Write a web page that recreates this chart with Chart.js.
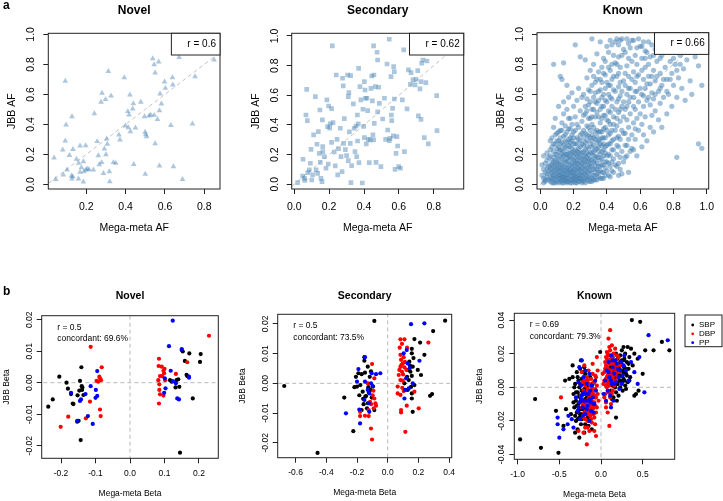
<!DOCTYPE html>
<html>
<head>
<meta charset="utf-8">
<script src="https://cdn.jsdelivr.net/npm/chart.js@4.4.1/dist/chart.umd.min.js"></script>
<style>
  body { margin: 0; background: #fff; }
  canvas { position: absolute; left: 0; top: 0; }
</style>
</head>
<body>
<script>
// ---- data ----
const novelAf = [[0.036,0.177],[0.044,0.034],[0.080,0.230],[0.083,0.063],[0.093,0.688],[0.093,0.290],[0.097,0.397],[0.102,0.097],[0.114,0.194],[0.124,0.057],[0.127,0.037],[0.127,0.452],[0.132,0.234],[0.131,0.052],[0.150,0.168],[0.160,0.037],[0.161,0.141],[0.168,0.257],[0.168,0.081],[0.175,0.112],[0.185,0.152],[0.185,0.017],[0.188,0.085],[0.197,0.259],[0.198,0.097],[0.205,0.103],[0.214,0.099],[0.236,0.097],[0.241,0.472],[0.255,0.286],[0.261,0.192],[0.266,0.132],[0.275,0.548],[0.280,0.608],[0.278,0.146],[0.287,0.074],[0.292,0.237],[0.298,0.566],[0.300,0.199],[0.304,0.303],[0.307,0.269],[0.312,0.754],[0.317,0.085],[0.319,0.019],[0.326,0.590],[0.338,0.146],[0.350,0.141],[0.366,0.330],[0.371,0.297],[0.393,0.712],[0.399,0.390],[0.411,0.486],[0.414,0.379],[0.417,0.463],[0.422,0.597],[0.424,0.352],[0.436,0.503],[0.439,0.539],[0.441,0.134],[0.450,0.377],[0.477,0.548],[0.496,0.452],[0.499,0.348],[0.502,0.332],[0.500,0.068],[0.507,0.319],[0.519,0.456],[0.527,0.463],[0.538,0.839],[0.545,0.799],[0.550,0.743],[0.545,0.461],[0.550,0.272],[0.562,0.434],[0.568,0.817],[0.572,0.123],[0.572,0.492],[0.575,0.603],[0.582,0.537],[0.598,0.683],[0.602,0.641],[0.630,0.394],[0.638,0.712],[0.640,0.663],[0.643,0.119],[0.672,0.846],[0.689,0.034],[0.740,0.403],[0.753,0.719],[0.850,0.830]];

const secondaryAf = [[0.019,0.011],[0.050,0.169],[0.048,0.056],[0.058,0.040],[0.061,0.027],[0.067,0.467],[0.071,0.640],[0.075,0.429],[0.077,0.079],[0.086,0.097],[0.092,0.142],[0.096,0.236],[0.100,0.029],[0.105,0.063],[0.111,0.333],[0.121,0.591],[0.125,0.097],[0.130,0.270],[0.134,0.074],[0.138,0.355],[0.144,0.209],[0.147,0.501],[0.149,0.148],[0.153,0.040],[0.159,0.018],[0.161,0.434],[0.163,0.254],[0.164,0.220],[0.172,0.187],[0.182,0.108],[0.187,0.569],[0.191,0.389],[0.195,0.137],[0.197,0.528],[0.203,0.378],[0.206,0.407],[0.214,0.510],[0.214,0.283],[0.218,0.933],[0.222,0.416],[0.229,0.218],[0.235,0.124],[0.241,0.737],[0.245,0.303],[0.249,0.063],[0.254,0.240],[0.264,0.378],[0.268,0.187],[0.274,0.085],[0.277,0.715],[0.281,0.663],[0.283,0.276],[0.287,0.443],[0.293,0.234],[0.300,0.193],[0.306,0.737],[0.310,0.591],[0.313,0.618],[0.310,0.160],[0.316,0.353],[0.321,0.276],[0.323,0.733],[0.325,0.011],[0.329,0.126],[0.339,0.542],[0.344,0.378],[0.348,0.220],[0.354,0.393],[0.358,0.187],[0.362,0.467],[0.363,0.292],[0.367,0.407],[0.369,0.782],[0.371,0.146],[0.377,0.658],[0.382,0.569],[0.390,0.009],[0.394,0.506],[0.398,0.391],[0.402,0.692],[0.402,0.315],[0.406,0.636],[0.408,0.580],[0.413,0.272],[0.417,0.580],[0.421,0.497],[0.425,0.303],[0.430,0.146],[0.436,0.299],[0.440,0.647],[0.444,0.730],[0.448,0.562],[0.451,0.333],[0.455,0.933],[0.455,0.299],[0.457,0.737],[0.459,0.411],[0.465,0.658],[0.469,0.148],[0.475,0.890],[0.478,0.488],[0.478,0.838],[0.484,0.654],[0.488,0.546],[0.497,0.119],[0.507,0.440],[0.517,0.580],[0.524,0.303],[0.532,0.811],[0.536,0.366],[0.545,0.978],[0.545,0.294],[0.549,0.310],[0.555,0.726],[0.557,0.467],[0.559,0.429],[0.564,0.512],[0.568,0.326],[0.570,0.793],[0.574,0.760],[0.574,0.575],[0.578,0.101],[0.584,0.209],[0.589,0.321],[0.593,0.258],[0.599,0.119],[0.609,0.108],[0.620,0.569],[0.628,0.906],[0.632,0.220],[0.647,0.508],[0.655,0.771],[0.666,0.674],[0.670,0.753],[0.681,0.704],[0.693,0.670],[0.699,0.708],[0.708,0.766],[0.712,0.461],[0.721,0.643],[0.727,0.438],[0.727,0.692],[0.731,0.816],[0.738,0.838],[0.746,0.315],[0.755,0.685],[0.761,0.831],[0.769,0.272],[0.817,0.598],[0.819,0.362]];

const knownAf = [
  [0.01,0.13],[0.02,0.04],[0.02,0.19],[0.03,0.08],[0.03,0.02],[0.04,0.11],[0.04,0.05],[0.01,0.06],[0.02,0.10],[0.04,0.16],[0.03,0.14],[0.05,0.03],[0.04,0.21],[0.05,0.09],[0.02,0.01],
  [0.06,0.02],[0.06,0.07],[0.06,0.13],[0.06,0.19],[0.07,0.04],[0.07,0.10],[0.07,0.25],[0.07,0.31],[0.08,0.01],[0.08,0.06],[0.08,0.15],[0.08,0.80],[0.08,0.22],[0.08,0.38],[0.09,0.03],[0.09,0.09],[0.09,0.12],[0.09,0.27],[0.09,0.44],[0.10,0.02],[0.10,0.05],[0.10,0.17],[0.10,0.34],[0.06,0.29],[0.07,0.16],[0.09,0.20],[0.10,0.11],[0.08,0.09],[0.06,0.04],[0.10,0.24],
  [0.11,0.01],[0.11,0.04],[0.11,0.08],[0.11,0.14],[0.11,0.29],[0.11,0.52],[0.12,0.02],[0.12,0.06],[0.12,0.11],[0.12,0.19],[0.12,0.36],[0.12,0.72],[0.13,0.03],[0.13,0.07],[0.13,0.13],[0.13,0.23],[0.13,0.41],[0.13,0.70],[0.14,0.01],[0.14,0.05],[0.14,0.09],[0.14,0.16],[0.14,0.26],[0.14,0.81],[0.14,0.47],[0.15,0.02],[0.15,0.06],[0.15,0.12],[0.15,0.20],[0.15,0.33],[0.12,0.27],[0.13,0.17],[0.11,0.22],[0.15,0.39],[0.14,0.55],
  [0.16,0.01],[0.16,0.04],[0.16,0.09],[0.16,0.15],[0.16,0.28],[0.16,0.50],[0.16,0.66],[0.17,0.02],[0.17,0.07],[0.17,0.12],[0.17,0.21],[0.17,0.37],[0.17,0.58],[0.18,0.03],[0.18,0.06],[0.18,0.10],[0.18,0.18],[0.18,0.31],[0.18,0.44],[0.19,0.01],[0.19,0.05],[0.19,0.14],[0.19,0.24],[0.19,0.40],[0.19,0.61],[0.20,0.02],[0.20,0.08],[0.20,0.13],[0.20,0.22],[0.20,0.35],[0.20,0.52],[0.17,0.30],[0.18,0.25],[0.19,0.33],[0.16,0.20],
  [0.21,0.03],[0.21,0.07],[0.21,0.16],[0.21,0.27],[0.21,0.45],[0.21,0.93],[0.22,0.01],[0.22,0.05],[0.22,0.11],[0.22,0.19],[0.22,0.31],[0.22,0.56],[0.23,0.04],[0.23,0.09],[0.23,0.14],[0.23,0.24],[0.23,0.38],[0.23,0.64],[0.24,0.02],[0.24,0.06],[0.24,0.12],[0.24,0.21],[0.24,0.29],[0.24,0.49],[0.25,0.03],[0.25,0.08],[0.25,0.17],[0.25,0.34],[0.25,0.42],[0.25,0.58],[0.22,0.40],[0.24,0.85],
  [0.26,0.02],[0.26,0.07],[0.26,0.13],[0.26,0.22],[0.26,0.36],[0.26,0.60],[0.27,0.04],[0.27,0.10],[0.27,0.19],[0.27,0.28],[0.27,0.47],[0.27,0.83],[0.28,0.03],[0.28,0.08],[0.28,0.15],[0.28,0.25],[0.28,0.39],[0.28,0.71],[0.29,0.05],[0.29,0.11],[0.29,0.20],[0.29,0.32],[0.29,0.53],[0.29,0.63],[0.30,0.02],[0.30,0.09],[0.30,0.17],[0.30,0.27],[0.30,0.44],[0.30,0.76],
  [0.31,0.04],[0.31,0.12],[0.31,0.21],[0.31,0.33],[0.31,0.50],[0.31,0.97],[0.32,0.06],[0.32,0.15],[0.32,0.26],[0.32,0.38],[0.32,0.58],[0.32,0.80],[0.33,0.03],[0.33,0.10],[0.33,0.19],[0.33,0.30],[0.33,0.45],[0.33,0.68],[0.34,0.07],[0.34,0.14],[0.34,0.24],[0.34,0.36],[0.34,0.54],[0.34,0.87],[0.35,0.05],[0.35,0.18],[0.35,0.29],[0.35,0.62],
  [0.36,0.09],[0.36,0.16],[0.36,0.27],[0.36,0.41],[0.36,0.70],[0.36,0.95],[0.37,0.04],[0.37,0.13],[0.37,0.22],[0.37,0.35],[0.37,0.52],[0.37,0.78],[0.38,0.08],[0.38,0.19],[0.38,0.31],[0.38,0.46],[0.38,0.60],[0.38,0.84],[0.39,0.11],[0.39,0.25],[0.39,0.38],[0.39,0.56],[0.39,0.73],[0.40,0.15],[0.40,0.43],
  [0.41,0.06],[0.41,0.20],[0.41,0.33],[0.41,0.49],[0.41,0.66],[0.41,0.88],[0.42,0.12],[0.42,0.27],[0.42,0.40],[0.42,0.58],[0.42,0.76],[0.43,0.09],[0.43,0.23],[0.43,0.36],[0.43,0.52],[0.43,0.70],[0.43,0.93],[0.44,0.17],[0.44,0.30],[0.44,0.45],[0.44,0.63],[0.45,0.81],
  [0.46,0.12],[0.46,0.26],[0.46,0.39],[0.46,0.55],[0.46,0.72],[0.46,0.97],[0.47,0.06],[0.47,0.32],[0.47,0.48],[0.47,0.65],[0.47,0.85],[0.48,0.18],[0.48,0.42],[0.48,0.59],[0.48,0.78],[0.48,0.96],[0.49,0.07],[0.49,0.36],[0.49,0.52],[0.50,0.69],
  [0.51,0.18],[0.51,0.34],[0.51,0.50],[0.51,0.66],[0.51,0.88],[0.52,0.26],[0.52,0.43],[0.52,0.60],[0.52,0.79],[0.52,0.97],[0.53,0.08],[0.53,0.38],[0.53,0.55],[0.53,0.72],[0.54,0.22],[0.54,0.47],[0.54,0.64],[0.54,0.91],[0.55,0.33],[0.55,0.82],
  [0.56,0.23],[0.56,0.41],[0.56,0.58],[0.56,0.75],[0.56,0.96],[0.57,0.30],[0.57,0.50],[0.57,0.68],[0.57,0.86],[0.58,0.19],[0.58,0.44],[0.58,0.62],[0.58,0.80],[0.59,0.36],[0.59,0.55],[0.59,0.73],[0.60,0.47],[0.60,0.92],
  [0.61,0.25],[0.61,0.40],[0.61,0.60],[0.61,0.84],[0.62,0.33],[0.62,0.52],[0.62,0.70],[0.62,0.95],[0.63,0.45],[0.63,0.64],[0.63,0.78],[0.64,0.29],[0.64,0.56],[0.64,0.88],[0.65,0.72],
  [0.66,0.38],[0.66,0.53],[0.66,0.67],[0.66,0.85],[0.67,0.46],[0.67,0.61],[0.67,0.93],[0.68,0.35],[0.68,0.57],[0.68,0.76],[0.69,0.49],[0.69,0.69],[0.70,0.82],
  [0.71,0.43],[0.71,0.62],[0.71,0.90],[0.72,0.54],[0.72,0.74],[0.73,0.38],[0.73,0.66],[0.73,0.86],[0.74,0.58],[0.75,0.78],
  [0.76,0.47],[0.76,0.70],[0.77,0.88],[0.77,0.60],[0.78,0.82],[0.79,0.52],[0.79,0.74],[0.80,0.66],
  [0.82,0.18],[0.81,0.80],[0.82,0.58],[0.83,0.71],[0.84,0.86],[0.85,0.64],
  [0.86,0.77],[0.87,0.56],[0.88,0.83],[0.90,0.69],[0.91,0.60],[0.93,0.85],[0.95,0.27],[0.95,0.79],[0.97,0.66],[0.97,0.24],
  // the dense low-AF mass
  [0.03,0.03],[0.04,0.07],[0.05,0.12],[0.05,0.18],[0.06,0.10],[0.06,0.23],[0.07,0.01],[0.07,0.07],[0.07,0.13],[0.08,0.04],[0.08,0.12],[0.08,0.18],[0.08,0.27],[0.09,0.01],[0.09,0.06],[0.09,0.15],[0.09,0.33],[0.10,0.08],[0.10,0.14],[0.10,0.20],[0.10,0.29],[0.11,0.06],[0.11,0.11],[0.11,0.17],[0.11,0.25],[0.11,0.35],[0.12,0.04],[0.12,0.09],[0.12,0.14],[0.12,0.23],[0.12,0.31],[0.13,0.01],[0.13,0.05],[0.13,0.10],[0.13,0.20],[0.13,0.28],[0.13,0.36],[0.14,0.03],[0.14,0.07],[0.14,0.12],[0.14,0.19],[0.14,0.22],[0.14,0.32],[0.15,0.04],[0.15,0.09],[0.15,0.15],[0.15,0.25],[0.15,0.29],[0.16,0.02],[0.16,0.06],[0.16,0.11],[0.16,0.18],[0.16,0.24],[0.16,0.35],[0.17,0.04],[0.17,0.09],[0.17,0.15],[0.17,0.18],[0.17,0.26],[0.17,0.44],[0.18,0.01],[0.18,0.08],[0.18,0.13],[0.18,0.21],[0.18,0.28],[0.18,0.37],[0.19,0.03],[0.19,0.08],[0.19,0.11],[0.19,0.17],[0.19,0.21],[0.19,0.29],[0.20,0.04],[0.20,0.06],[0.20,0.10],[0.20,0.16],[0.20,0.19],[0.20,0.27],[0.20,0.31],[0.21,0.01],[0.21,0.05],[0.21,0.10],[0.21,0.13],[0.21,0.20],[0.21,0.23],[0.21,0.36],[0.22,0.03],[0.22,0.08],[0.22,0.14],[0.22,0.16],[0.22,0.22],[0.22,0.27],[0.23,0.02],[0.23,0.06],[0.23,0.11],[0.23,0.18],[0.23,0.21],[0.23,0.30],[0.24,0.04],[0.24,0.09],[0.24,0.15],[0.24,0.18],[0.24,0.25],[0.24,0.33],[0.25,0.01],[0.25,0.06],[0.25,0.11],[0.25,0.14],[0.25,0.21],[0.25,0.27],[0.26,0.04],[0.26,0.10],[0.26,0.16],[0.26,0.19],[0.26,0.26],[0.26,0.31],[0.27,0.01],[0.27,0.07],[0.27,0.13],[0.27,0.16],[0.27,0.23],[0.27,0.34],[0.28,0.05],[0.28,0.11],[0.28,0.18],[0.28,0.21],[0.28,0.29],[0.28,0.33],[0.29,0.02],[0.29,0.08],[0.29,0.14],[0.29,0.17],[0.29,0.24],[0.29,0.38],[0.30,0.05],[0.30,0.12],[0.30,0.14],[0.30,0.21],[0.30,0.31],[0.30,0.36],[0.31,0.02],[0.31,0.08],[0.31,0.16],[0.31,0.25],[0.31,0.29],[0.31,0.40],[0.32,0.03],[0.32,0.10],[0.32,0.19],[0.32,0.22],[0.32,0.31],[0.33,0.06],[0.33,0.13],[0.33,0.16],[0.33,0.23],[0.33,0.35],[0.34,0.03],[0.34,0.10],[0.34,0.18],[0.34,0.28],[0.34,0.32],[0.35,0.08],[0.35,0.12],[0.35,0.22],[0.35,0.25],[0.35,0.35],[0.36,0.04],[0.36,0.12],[0.36,0.20],[0.36,0.30],[0.36,0.35],[0.37,0.08],[0.37,0.17],[0.37,0.26],[0.37,0.31],[0.38,0.04],[0.38,0.13],[0.38,0.23],[0.38,0.27],[0.38,0.37],[0.39,0.06],[0.39,0.15],[0.39,0.21],[0.39,0.31],[0.40,0.09],[0.40,0.19],[0.40,0.26],[0.40,0.36],
  // middle lobe
  [0.26,0.46],[0.27,0.52],[0.28,0.57],[0.28,0.49],[0.29,0.44],[0.30,0.55],[0.30,0.62],[0.31,0.45],[0.31,0.66],[0.32,0.50],[0.32,0.72],[0.33,0.55],[0.33,0.61],[0.34,0.48],[0.34,0.70],[0.35,0.45],[0.35,0.56],[0.35,0.75],[0.36,0.50],[0.36,0.63],[0.37,0.44],[0.37,0.58],[0.37,0.68],[0.38,0.52],[0.38,0.74],[0.39,0.46],[0.39,0.64],[0.39,0.82],[0.40,0.55],[0.40,0.68],[0.41,0.42],[0.41,0.60],[0.41,0.78],[0.42,0.48],[0.42,0.66],[0.43,0.57],[0.43,0.80],[0.44,0.40],[0.44,0.72],[0.45,0.50],[0.45,0.62],[0.46,0.44],[0.46,0.80],[0.47,0.57],[0.47,0.74],[0.48,0.50],[0.48,0.68],[0.49,0.62],[0.49,0.86],[0.50,0.45],[0.50,0.55],[0.51,0.74],[0.52,0.52],[0.53,0.64],[0.53,0.84],[0.54,0.58],[0.55,0.70],[0.56,0.52],[0.57,0.62],[0.58,0.72],
  [0.41,0.14],[0.41,0.27],[0.42,0.05],[0.42,0.19],[0.42,0.34],[0.43,0.15],[0.43,0.29],[0.44,0.08],[0.44,0.23],[0.45,0.13],[0.45,0.36],[0.46,0.20],[0.46,0.31],[0.47,0.14],[0.47,0.25],[0.48,0.10],[0.48,0.30],[0.49,0.22],[0.50,0.15],[0.50,0.34],[0.51,0.26],[0.52,0.19],[0.53,0.30],[0.55,0.24],[0.57,0.37],
  [0.40,0.92],[0.42,0.96],[0.44,0.86],[0.45,0.95],[0.47,0.93],[0.49,0.97],[0.50,0.90],[0.53,0.94],[0.55,0.96],[0.58,0.91],[0.59,0.97],[0.61,0.92],[0.63,0.89],[0.65,0.95],[0.69,0.90],
  [0.60,0.64],[0.61,0.76],[0.62,0.59],[0.63,0.84],[0.64,0.67],[0.65,0.58],[0.65,0.80],[0.67,0.72],[0.68,0.86],[0.69,0.60],[0.70,0.72],[0.72,0.64],[0.72,0.84],[0.74,0.70],[0.75,0.88],[0.76,0.62],[0.78,0.70],[0.80,0.84],[0.82,0.76],[0.84,0.80]
];

const novelSbp = [[-0.237,-0.0076],[-0.224,-0.0053],[-0.205,0.0019],[-0.184,0.0000],[-0.180,-0.0019],[-0.171,-0.0036],[-0.166,-0.0066],[-0.164,-0.0068],[-0.153,-0.0124],[-0.149,-0.0121],[-0.145,0.0006],[-0.143,-0.0182],[-0.141,0.0049],[-0.140,-0.0011],[-0.139,-0.0023],[-0.147,-0.0025],[-0.152,-0.0040],[-0.135,-0.0039],[-0.138,-0.0015],[0.145,-0.0222],[0.150,0.0104],[0.153,0.0099],[0.172,0.0093],[0.205,0.0091],[0.203,0.0066],[0.159,0.0069],[0.164,0.0025],[0.166,0.0021],[0.182,-0.0050],[0.140,0.0011],[0.135,0.0008],[0.132,-0.0015],[0.143,-0.0013],[0.121,0.0003],[0.116,0.0008]];
const novelDbp = [[-0.201,-0.0140],[-0.179,-0.0108],[-0.114,0.0114],[-0.116,-0.0060],[-0.128,-0.0113],[-0.092,0.0003],[-0.097,0.0006],[-0.087,0.0014],[-0.082,0.0049],[-0.084,0.0008],[-0.089,0.0019],[-0.087,-0.0085],[-0.085,-0.0106],[0.229,0.0149],[0.084,0.0076],[0.083,0.0053],[0.087,0.0021],[0.082,0.0008],[0.085,-0.0005],[0.085,-0.0023],[0.087,-0.0037],[0.084,-0.0066],[0.092,0.0051],[0.097,0.0038],[0.099,0.0030],[0.093,0.0021],[0.102,0.0008],[0.100,0.0044],[0.097,-0.0041],[0.133,0.0028],[0.166,0.0065]];
const novelPp = [[-0.171,-0.0032],[-0.153,-0.0121],[-0.142,-0.0053],[-0.145,-0.0058],[-0.129,-0.0036],[-0.122,-0.0106],[-0.114,-0.0011],[-0.108,-0.0131],[-0.095,0.0037],[-0.099,-0.0023],[-0.095,-0.0042],[-0.100,-0.0048],[0.124,0.0197],[0.113,0.0116],[0.101,0.0014],[0.103,-0.0018],[0.099,-0.0032],[0.118,0.0038],[0.124,0.0005],[0.133,-0.0002],[0.137,-0.0050],[0.142,-0.0053],[0.150,0.0107],[0.171,0.0019],[0.171,0.0016]];

const secondarySbp = [[-0.674,-0.0009],[-0.457,-0.0234],[-0.283,-0.0048],[-0.224,-0.0161],[-0.087,0.0210],[0.374,0.0211],[0.296,0.0176],[0.174,0.0149],[0.211,0.0137],[0.239,0.0096],[0.157,0.0116],[0.157,0.0101],[0.141,0.0073],[0.163,0.0056],[0.148,0.0039],[0.196,0.0045],[0.217,0.0028],[0.157,0.0025],[0.126,0.0022],[0.137,0.0011],[0.174,-0.0006],[0.109,0.0000],[0.157,-0.0034],[0.157,-0.0051],[0.163,-0.0096],[0.276,-0.0042],[0.289,-0.0036],[0.130,-0.0022],[-0.152,0.0076],[-0.152,0.0088],[-0.207,0.0022],[-0.191,0.0034],[-0.170,0.0031],[-0.148,0.0036],[-0.200,-0.0011],[-0.217,-0.0013],[-0.178,-0.0006],[-0.163,-0.0028],[-0.146,-0.0045],[-0.141,-0.0043],[-0.157,-0.0070],[-0.130,-0.0067],[-0.126,-0.0013],[-0.104,-0.0048],[-0.113,-0.0022],[-0.096,-0.0011],[-0.135,-0.0084],[-0.170,-0.0090],[-0.087,-0.0090],[-0.117,0.0022],[-0.130,0.0056],[-0.109,0.0040],[-0.160,-0.0052],[-0.185,-0.0040],[-0.122,-0.0030],[0.145,0.0060],[0.168,0.0085],[0.135,0.0045],[0.152,-0.0012]];
const secondaryDbp = [[-0.102,-0.0189],[-0.109,-0.0152],[-0.180,-0.0110],[-0.148,-0.0109],[-0.124,-0.0110],[-0.091,-0.0084],[-0.076,-0.0075],[-0.087,-0.0051],[-0.093,-0.0025],[-0.087,0.0017],[-0.102,0.0065],[-0.130,0.0000],[-0.080,-0.0067],[-0.115,-0.0062],[-0.180,-0.0096],[-0.124,-0.0090],[0.115,-0.0163],[0.083,0.0148],[0.109,0.0148],[0.093,0.0133],[0.078,0.0120],[0.126,0.0120],[0.265,0.0137],[0.083,0.0096],[0.104,0.0088],[0.087,0.0079],[0.098,0.0067],[0.083,0.0056],[0.109,0.0054],[0.076,0.0045],[0.093,0.0039],[0.122,0.0045],[0.083,0.0011],[0.098,0.0009],[0.065,-0.0011],[0.065,-0.0034],[0.083,-0.0039],[0.104,-0.0026],[0.087,-0.0090],[0.087,-0.0098],[0.124,-0.0075],[0.202,-0.0084],[0.174,-0.0028],[0.100,0.0030],[0.090,0.0062],[0.112,0.0072],[0.072,0.0028],[0.095,-0.0015],[-0.098,-0.0040],[-0.108,-0.0070]];
const secondaryPp = [[-0.191,0.0048],[-0.148,0.0088],[-0.200,0.0006],[-0.272,-0.0101],[-0.180,-0.0135],[-0.185,-0.0088],[-0.148,0.0006],[-0.130,-0.0022],[-0.120,-0.0034],[-0.109,0.0000],[-0.104,0.0034],[-0.076,0.0031],[-0.048,0.0034],[-0.098,-0.0009],[-0.152,-0.0056],[-0.124,-0.0067],[-0.120,-0.0096],[0.152,0.0199],[0.239,0.0202],[0.207,0.0076],[0.124,0.0112],[0.130,0.0067],[0.143,0.0051],[0.120,0.0017],[0.163,0.0000],[0.113,-0.0022],[0.109,-0.0051],[0.137,-0.0017],[0.104,0.0101]];

const knownSbp = [[-0.34,0.006],[-0.33,-0.004],[-0.32,-0.012],[-0.31,0.002],[-0.30,-0.020],[-0.30,-0.008],[-0.29,0.009],[-0.29,-0.015],[-0.28,-0.003],[-0.28,-0.025],[-0.27,0.004],[-0.27,-0.010],[-0.26,-0.018],[-0.26,0.000],[-0.25,-0.006],[-0.25,0.011],[-0.24,-0.013],[-0.24,-0.022],[-0.23,-0.002],[-0.23,0.005],[-0.22,-0.009],[-0.22,-0.016],[-0.21,-0.004],[-0.21,0.002],[-0.20,-0.012],[-0.20,-0.027],[-0.19,-0.007],[-0.19,0.008],[-0.18,-0.001],[-0.18,-0.019],[-0.17,-0.010],[-0.17,0.004],[-0.16,-0.005],[-0.16,-0.014],[-0.15,0.001],[-0.15,-0.023],[-0.14,-0.008],[-0.13,0.006],[-0.13,-0.016],[-0.12,-0.003],[-0.11,-0.011],[-0.10,0.002],[-0.26,-0.030],[-0.36,-0.016],[-0.38,0.005],[-0.42,-0.013],[-0.24,0.016],[-0.20,0.012],[-0.07,-0.006],
  [-0.33,-0.009],[-0.32,0.000],[-0.31,-0.017],[-0.30,-0.003],[-0.29,-0.011],[-0.28,0.006],[-0.27,-0.014],[-0.26,-0.005],[-0.25,-0.016],[-0.25,0.002],[-0.24,-0.008],[-0.23,-0.019],[-0.22,-0.004],[-0.21,-0.013],[-0.20,-0.001],[-0.19,-0.015],[-0.18,-0.010],[-0.17,-0.006],[-0.16,-0.018],[-0.15,-0.010],[-0.22,0.009],[-0.28,-0.019],[-0.19,-0.022],
  [-0.97,-0.031],[-0.72,-0.036],[-0.51,-0.039],[-0.79,-0.007],[-0.54,-0.014],[-0.43,0.004],[-0.34,0.013],[-0.45,-0.023],[-0.31,-0.027],[-0.11,-0.025],[-0.01,0.021],
  [0.10,0.004],[0.11,0.012],[0.12,-0.002],[0.13,0.008],[0.14,0.018],[0.14,0.001],[0.15,0.010],[0.15,-0.006],[0.16,0.005],[0.16,0.015],[0.17,0.000],[0.17,0.009],[0.18,0.020],[0.18,-0.003],[0.19,0.006],[0.19,0.013],[0.20,0.002],[0.20,0.017],[0.21,0.008],[0.21,-0.005],[0.22,0.011],[0.22,0.004],[0.23,0.019],[0.23,0.000],[0.24,0.007],[0.24,0.014],[0.25,0.003],[0.25,0.022],[0.26,0.010],[0.26,-0.002],[0.27,0.016],[0.27,0.005],[0.28,0.012],[0.29,0.001],[0.29,0.020],[0.30,0.008],[0.31,0.015],[0.32,0.024],[0.32,0.003],[0.33,0.011],[0.34,0.018],[0.35,0.006],[0.36,0.023],[0.38,0.013],[0.40,0.020],[0.42,-0.004],[0.44,0.017],[0.45,-0.002],[0.12,0.016],[0.08,0.002],[0.13,-0.007],[0.19,-0.008],[0.27,0.024],[0.30,-0.001],[0.18,0.010],
  [0.14,0.008],[0.15,0.003],[0.16,0.012],[0.17,0.005],[0.18,0.014],[0.19,0.002],[0.20,0.010],[0.21,0.013],[0.22,0.007],[0.23,0.015],[0.23,0.004],[0.24,0.010],[0.25,0.016],[0.25,0.007],[0.26,0.013],[0.27,0.009],[0.28,0.017],[0.28,0.004],[0.29,0.011],[0.31,0.007],[0.33,0.014],[0.34,0.004],
  [0.37,0.040],[0.47,0.039],[0.73,0.027],[0.82,0.022],[0.63,0.022],[0.53,0.022],[0.50,0.008],[0.40,-0.005],[0.18,-0.018]];
const knownDbp = [[-0.24,-0.005],[-0.23,-0.012],[-0.22,0.003],[-0.21,-0.018],[-0.20,-0.008],[-0.19,0.001],[-0.19,-0.024],[-0.18,-0.014],[-0.18,-0.004],[-0.17,0.006],[-0.17,-0.010],[-0.16,-0.020],[-0.16,-0.001],[-0.15,-0.007],[-0.15,0.010],[-0.14,-0.015],[-0.14,0.002],[-0.13,-0.003],[-0.13,-0.011],[-0.12,0.005],[-0.12,-0.019],[-0.11,-0.008],[-0.11,0.000],[-0.10,-0.013],[-0.10,0.008],[-0.09,-0.004],[-0.09,-0.016],[-0.08,0.003],[-0.08,-0.009],[-0.07,-0.001],[-0.07,-0.022],[-0.06,-0.006],[-0.06,0.006],[-0.05,-0.012],[-0.05,0.001],[-0.04,-0.004],[-0.04,0.010],[-0.03,-0.008],[-0.14,-0.026],[-0.21,-0.027],[-0.17,-0.034],[-0.06,-0.029],[-0.23,0.009],[-0.48,-0.006],[-0.05,0.018],[-0.10,0.014],[-0.27,-0.026],[-0.20,0.013],[-0.12,-0.002],
  [-0.22,-0.010],[-0.21,-0.002],[-0.20,-0.015],[-0.20,0.004],[-0.19,-0.011],[-0.18,-0.008],[-0.18,0.002],[-0.17,-0.016],[-0.17,-0.003],[-0.16,-0.009],[-0.16,0.004],[-0.15,-0.013],[-0.15,-0.002],[-0.14,-0.010],[-0.14,-0.005],[-0.13,-0.017],[-0.13,0.001],[-0.12,-0.007],[-0.12,-0.013],[-0.11,-0.004],[-0.11,-0.016],[-0.10,-0.009],[-0.10,-0.002],[-0.09,-0.012],[-0.09,0.003],[-0.08,-0.005],[-0.08,-0.018],[-0.07,-0.011],[-0.07,0.007],[-0.06,-0.015],[-0.19,-0.019],[-0.16,-0.024],[-0.11,-0.021],[-0.08,-0.026],
  [0.03,0.002],[0.04,0.009],[0.05,-0.004],[0.05,0.015],[0.06,0.005],[0.06,-0.009],[0.07,0.012],[0.07,0.000],[0.08,0.020],[0.08,0.007],[0.09,-0.003],[0.09,0.016],[0.10,0.010],[0.10,0.001],[0.11,0.022],[0.11,-0.006],[0.12,0.006],[0.12,0.014],[0.13,0.003],[0.13,0.018],[0.14,-0.002],[0.14,0.011],[0.15,0.007],[0.15,0.020],[0.16,0.001],[0.16,0.013],[0.17,0.009],[0.18,0.004],[0.18,0.016],[0.19,0.011],[0.20,0.006],[0.21,0.018],[0.22,0.009],[0.24,0.013],[0.11,0.034],[0.09,0.029],[0.10,-0.023],[0.08,-0.015],[0.06,-0.012],[0.13,0.025],[0.17,0.023],[0.04,-0.006],[0.07,0.017],[0.12,-0.010],[0.02,0.008],
  [0.04,0.004],[0.05,0.011],[0.06,0.001],[0.06,0.013],[0.07,0.006],[0.07,0.021],[0.08,0.003],[0.08,0.011],[0.09,0.008],[0.09,0.019],[0.10,0.004],[0.10,0.014],[0.11,0.009],[0.11,0.002],[0.12,0.017],[0.12,0.010],[0.13,0.007],[0.13,-0.004],[0.14,0.015],[0.14,0.005],[0.15,0.012],[0.15,0.002],[0.16,0.008],[0.17,0.014],[0.17,0.003],[0.18,0.008],[0.19,0.019],[0.20,0.013],[0.06,0.018],[0.10,0.024]];
const knownPp = [[-0.30,-0.006],[-0.28,-0.014],[-0.27,0.003],[-0.26,-0.009],[-0.25,-0.019],[-0.24,0.001],[-0.23,-0.005],[-0.22,-0.012],[-0.21,0.006],[-0.20,-0.003],[-0.19,-0.016],[-0.18,-0.008],[-0.17,0.002],[-0.16,-0.011],[-0.15,-0.004],[-0.14,0.008],[-0.13,-0.007],[-0.12,-0.014],[-0.11,0.001],[-0.10,-0.006],[-0.08,-0.010],[-0.07,0.004],[-0.06,-0.002],[-0.35,-0.019],[-0.39,-0.017],[-0.45,-0.025],[-0.50,-0.030],[-0.52,-0.018],[-0.52,-0.022],[-0.40,-0.022],[-0.23,0.016],[-0.19,0.010],[-0.26,0.012],[-0.33,-0.024],[-0.14,-0.020],
  [-0.27,-0.012],[-0.24,-0.007],[-0.22,-0.017],[-0.21,-0.008],[-0.19,-0.004],[-0.17,-0.013],[-0.15,-0.008],[-0.13,-0.002],[-0.12,-0.009],[-0.09,-0.015],
  [0.05,0.004],[0.06,-0.008],[0.07,0.010],[0.08,-0.002],[0.09,0.015],[0.10,0.006],[0.11,-0.005],[0.12,0.019],[0.13,0.002],[0.14,0.012],[0.15,-0.008],[0.16,0.008],[0.17,0.016],[0.18,0.003],[0.20,0.011],[0.22,-0.001],[0.24,0.015],[0.26,0.007],[0.28,0.019],[0.30,0.010],[0.33,0.004],[0.36,0.015],[0.40,0.009],[0.44,0.002],[0.52,-0.003],[0.57,0.031],[0.80,0.028],[0.46,0.018],[0.03,-0.004],[0.12,-0.012],
  [0.09,0.009],[0.12,0.004],[0.14,0.016],[0.16,0.002],[0.19,0.014],[0.21,0.006],[0.23,0.010],[0.25,0.002],[0.27,0.013]];

const afTicks = [0, 0.2, 0.4, 0.6, 0.8, 1.0];
const novelAfXTicks = [0.2, 0.4, 0.6, 0.8];
const secondaryAfXTicks = [0, 0.2, 0.4, 0.6, 0.8];
const novelBetaXTicks = [-0.2, -0.1, 0, 0.1, 0.2];
const secondaryBetaXTicks = [-0.6, -0.4, -0.2, 0, 0.2, 0.4];
const knownBetaXTicks = [-1.0, -0.5, 0, 0.5];
const smallBetaYTicks = [-0.02, -0.01, 0, 0.01, 0.02];
const knownBetaYTicks = [-0.04, -0.02, 0, 0.02, 0.04];

const afR = ['0.6', '0.62', '0.66'];
const betaR = ['0.5', '0.5', '0.69'];
const concordant = ['69.6%', '73.5%', '79.3%'];
const seriesNames = ['SBP', 'DBP', 'PP'];
const groupNames = ['Novel', 'Secondary', 'Known'];

// ---- layout ----
const W = 723, H = 501, AXW = 30, AXH = 30;
const FONT = '"Liberation Sans", Arial, sans-serif';
const AF_COLOR = 'rgba(70,130,180,0.45)';
const AF_DENSE = 'rgba(70,130,180,0.5)';
const SERIES_COLORS = ['#000000', '#ff0000', '#0000ff'];

const ROW = {
  a: { tick: 10.5, axis: 10.5, title: 12, yLab: 17, yTitle: 36, xTitle: 39, titleBase: 13.5, pad: 7,
       xName: 'Mega-meta AF', yName: 'JBB AF' },
  b: { tick: 8.5, axis: 8.5, title: 10.5, yLab: 12.5, yTitle: 35, xTitle: 35.2, titleBase: 299, pad: 5,
       xName: 'Mega-meta Beta', yName: 'JBB Beta' }
};

const toXY = arr => arr.map(([x, y]) => ({ x, y }));

function afSets(pts, style, radius, color) {
  return [
    { data: toXY(pts), pointStyle: style, pointRadius: radius, backgroundColor: color, borderWidth: 0 },
    { data: [{ x: -2, y: -2 }, { x: 2, y: 2 }], showLine: true, pointRadius: 0,
      borderColor: '#c4c4c4', borderWidth: 1, borderDash: [4, 3] }
  ];
}
function betaSets(sbp, dbp, pp) {
  const pts = [pp, dbp, sbp].map((d, i) => ({
    data: toXY(d), pointStyle: 'circle', pointRadius: 2.1,
    backgroundColor: SERIES_COLORS[2 - i], borderWidth: 0
  }));
  const dash = { showLine: true, pointRadius: 0, borderColor: '#b8b8b8', borderWidth: 1, borderDash: [4, 3] };
  return pts.concat([
    Object.assign({ data: [{ x: -5, y: 0 }, { x: 5, y: 0 }] }, dash),
    Object.assign({ data: [{ x: 0, y: -1 }, { x: 0, y: 1 }] }, dash)
  ]);
}

const panels = [
  { row: 'a', i: 0, box: [48.3, 33.3, 220, 189], x: [0.0066, 0.880], y: [-0.031, 1.007],
    xTicks: novelAfXTicks, yTicks: afTicks, dec: [1, 1], sets: afSets(novelAf, 'triangle', 3.3, AF_COLOR) },
  { row: 'a', i: 1, box: [291.7, 33.3, 463.7, 189], x: [-0.0149, 0.972], y: [-0.0317, 1.018],
    xTicks: secondaryAfXTicks, yTicks: afTicks, dec: [1, 1], sets: afSets(secondaryAf, 'rect', 3.3, AF_COLOR) },
  { row: 'a', i: 2, box: [537, 32.7, 708.7, 189], x: [-0.0198, 1.0114], y: [-0.031, 1.0107],
    xTicks: afTicks, yTicks: afTicks, dec: [1, 1], sets: afSets(knownAf, 'circle', 2.6, AF_DENSE) },
  { row: 'b', i: 0, box: [41.7, 315.7, 218.3, 458.3], x: [-0.256, 0.256], y: [-0.024, 0.02127],
    xTicks: novelBetaXTicks, yTicks: smallBetaYTicks, dec: [1, 2], sets: betaSets(novelSbp, novelDbp, novelPp) },
  { row: 'b', i: 1, box: [277.7, 314.3, 451.7, 457.7], x: [-0.7166, 0.4169], y: [-0.02502, 0.02323],
    xTicks: secondaryBetaXTicks, yTicks: smallBetaYTicks, dec: [1, 2], sets: betaSets(secondarySbp, secondaryDbp, secondaryPp) },
  { row: 'b', i: 2, box: [514.3, 313.3, 674.7, 459.3], x: [-1.0396, 0.8837], y: [-0.04286, 0.04405],
    xTicks: knownBetaXTicks, yTicks: knownBetaYTicks, dec: [1, 2], sets: betaSets(knownSbp, knownDbp, knownPp), legend: true }
];

function decorFor(p) {
  const s = ROW[p.row];
  return {
    id: 'decor' + p.row + p.i,
    afterDraw(chart) {
      const ctx = chart.ctx, a = chart.chartArea, ys = chart.scales.y;
      ctx.save();
      ctx.strokeStyle = '#222';
      ctx.lineWidth = 1;
      ctx.strokeRect(a.left, a.top, a.right - a.left, a.bottom - a.top);
      ctx.fillStyle = '#000';

      // rotated y tick labels, R style
      ctx.font = s.tick + 'px ' + FONT;
      ctx.textAlign = 'center';
      ctx.textBaseline = 'middle';
      ys.ticks.forEach(t => {
        ctx.save();
        ctx.translate(a.left - s.yLab, ys.getPixelForValue(t.value));
        ctx.rotate(-Math.PI / 2);
        ctx.fillText(t.value.toFixed(p.dec[1]), 0, 0);
        ctx.restore();
      });

      // axis titles
      ctx.font = s.axis + 'px ' + FONT;
      ctx.fillText(s.xName, (a.left + a.right) / 2, a.bottom + s.xTitle);
      ctx.save();
      ctx.translate(a.left - s.yTitle, (a.top + a.bottom) / 2);
      ctx.rotate(-Math.PI / 2);
      ctx.fillText(s.yName, 0, 0);
      ctx.restore();

      // panel title
      ctx.font = 'bold ' + s.title + 'px ' + FONT;
      ctx.textBaseline = 'alphabetic';
      ctx.fillText(groupNames[p.i], (a.left + a.right) / 2, s.titleBase);

      if (p.i === 0) {
        ctx.font = 'bold 12px ' + FONT;
        ctx.textAlign = 'left';
        ctx.fillText(p.row, 3, p.row === 'a' ? 8.5 : 295);
      }

      if (p.row === 'a') {
        const txt = 'r = ' + afR[p.i];
        ctx.font = '10px ' + FONT;
        const w = ctx.measureText(txt).width + 20;
        ctx.fillStyle = '#fff';
        ctx.fillRect(a.right - w, a.top, w, 21.7);
        ctx.strokeRect(a.right - w, a.top, w, 21.7);
        ctx.fillStyle = '#000';
        ctx.textAlign = 'right';
        ctx.textBaseline = 'middle';
        ctx.fillText(txt, a.right - 4, a.top + 11);
      } else {
        ctx.font = s.axis + 'px ' + FONT;
        ctx.textAlign = 'left';
        ctx.textBaseline = 'middle';
        ctx.fillText('r = ' + betaR[p.i], a.left + 15.5, a.top + 11.5);
        ctx.fillText('concordant: ' + concordant[p.i], a.left + 15.5, a.top + 23);
      }

      if (p.legend) {
        ctx.fillStyle = '#fff';
        ctx.fillRect(685, 315, 37, 31.7);
        ctx.strokeRect(685, 315, 37, 31.7);
        ctx.font = '8px ' + FONT;
        ctx.textAlign = 'left';
        ctx.textBaseline = 'middle';
        seriesNames.forEach((n, k) => {
          const yy = 325 + k * 8.85;
          ctx.fillStyle = SERIES_COLORS[k];
          ctx.beginPath();
          ctx.arc(692.7, yy, 1.4, 0, Math.PI * 2);
          ctx.fill();
          ctx.fillStyle = '#000';
          ctx.fillText(n, 699, yy);
        });
      }
      ctx.restore();
    }
  };
}

function axisOpts(p, which) {
  const s = ROW[p.row];
  const isX = which === 'x';
  return {
    type: 'linear',
    min: p[which][0],
    max: p[which][1],
    afterBuildTicks: sc => { sc.ticks = (isX ? p.xTicks : p.yTicks).map(v => ({ value: v })); },
    afterFit: sc => { if (isX) sc.height = AXH; else sc.width = AXW; },
    grid: { display: true, drawOnChartArea: false, drawTicks: true, tickLength: 5, tickColor: '#222', tickWidth: 1 },
    border: { display: false },
    ticks: isX
      ? { display: true, font: { family: FONT, size: s.tick }, color: '#000', padding: s.pad,
          maxRotation: 0, minRotation: 0, autoSkip: false, callback: v => v.toFixed(p.dec[0]) }
      : { display: false }
  };
}

panels.forEach(p => {
  const canvas = document.createElement('canvas');
  canvas.width = W;
  canvas.height = H;
  canvas.style.width = W + 'px';
  canvas.style.height = H + 'px';
  document.body.appendChild(canvas);
  new Chart(canvas, {
    type: 'scatter',
    data: { datasets: p.sets },
    options: {
      responsive: false,
      animation: false,
      events: [],
      devicePixelRatio: 1,
      layout: { padding: { left: p.box[0] - AXW, top: p.box[1], right: W - p.box[2], bottom: H - p.box[3] - AXH } },
      plugins: { legend: { display: false }, tooltip: { enabled: false } },
      scales: { x: axisOpts(p, 'x'), y: axisOpts(p, 'y') }
    },
    plugins: [decorFor(p)]
  });
});
</script>
</body>
</html>
